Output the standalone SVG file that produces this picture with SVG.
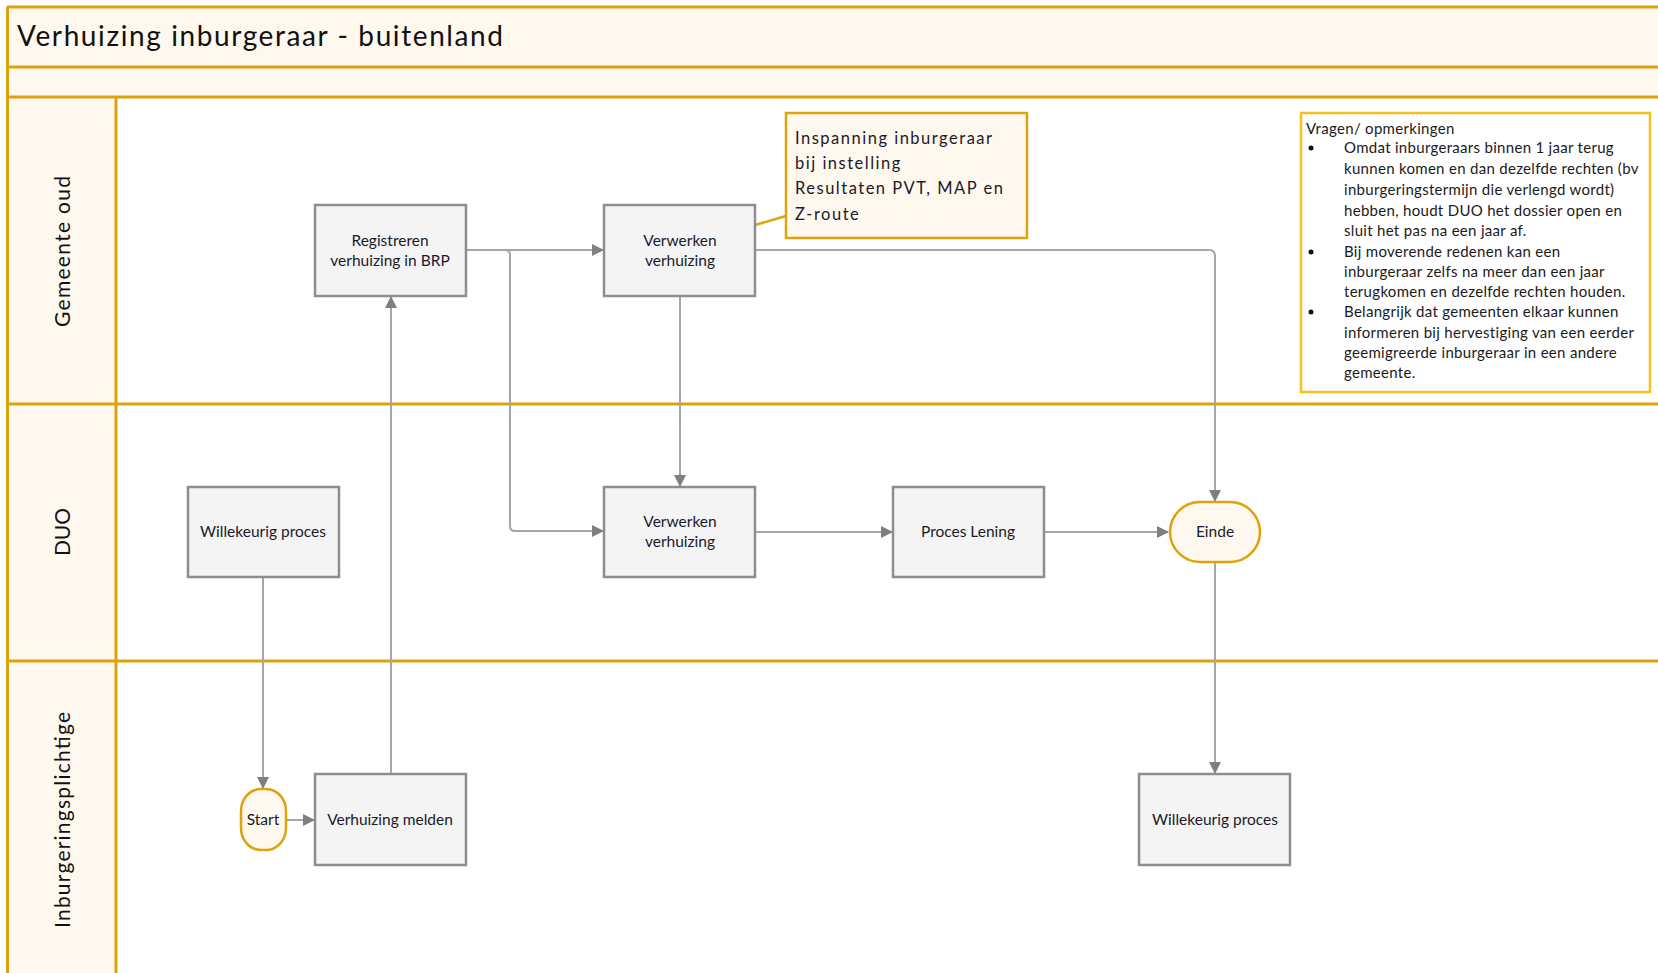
<svg xmlns="http://www.w3.org/2000/svg" width="1658" height="973" viewBox="0 0 1658 973">
<style>
.lane{stroke:#DDA20C;stroke-width:3;fill:none}
.hdr{fill:#FEF8EF}
.proc{fill:#F4F4F4;stroke:#8E8E8E;stroke-width:2.5}
.term{fill:#FEF8EF;stroke:#DDA20C;stroke-width:2.5}
.t{font-family:Lato,"Open Sans",sans-serif;font-size:15.5px;fill:#1a1a2a;text-anchor:middle}
.lt{font-family:Lato,"Open Sans",sans-serif;font-size:21px;fill:#111;text-anchor:middle}
.note{font-family:Lato,"Open Sans",sans-serif;font-size:16.5px;fill:#1a1a2a;letter-spacing:1.5px}
.q{font-family:Lato,"Open Sans",sans-serif;font-size:15px;fill:#1a1a1a;letter-spacing:0.3px}
.c{stroke:#A6A6A6;stroke-width:2;fill:none}
</style>
<defs>
<marker id="ah" markerUnits="userSpaceOnUse" markerWidth="12" markerHeight="12" refX="11" refY="6" orient="auto">
<path d="M0,0 L12,6 L0,12 z" fill="#7F7F7F"/>
</marker>
</defs>
<rect width="1658" height="973" fill="#ffffff"/>
<g id="frame">
<rect class="hdr" x="7" y="7" width="1651" height="90"/>
<rect class="hdr" x="7" y="97" width="109" height="876"/>
<line class="lane" x1="7" y1="7" x2="1658" y2="7"/>
<line class="lane" x1="7" y1="67" x2="1658" y2="67"/>
<line class="lane" x1="7" y1="97" x2="1658" y2="97"/>
<line class="lane" x1="7" y1="404" x2="1658" y2="404"/>
<line class="lane" x1="7" y1="661" x2="1658" y2="661"/>
<line class="lane" x1="7.5" y1="7" x2="7.5" y2="973"/>
<line class="lane" x1="116" y1="97" x2="116" y2="973"/>
<text x="17" y="46" font-family="Lato,'Open Sans',sans-serif" font-size="28" fill="#111" textLength="486">Verhuizing inburgeraar - buitenland</text>
</g>
<g id="lane-gemeente"><text class="lt" transform="translate(70,251) rotate(-90)" textLength="152" letter-spacing="1">Gemeente oud</text></g>
<g id="lane-duo"><text class="lt" transform="translate(70,532) rotate(-90)">DUO</text></g>
<g id="lane-inburgeringsplichtige"><text class="lt" transform="translate(70,820) rotate(-90)" textLength="216">Inburgeringsplichtige</text></g>
<g id="connectors">
<path class="c" d="M466,250 L603,250" marker-end="url(#ah)"/>
<path class="c" d="M466,250 L505,250 Q510,250 510,255 L510,526 Q510,531 515,531 L603,531" marker-end="url(#ah)"/>
<path class="c" d="M680,296 L680,486" marker-end="url(#ah)"/>
<path class="c" d="M755,250 L1209,250 Q1215,250 1215,256 L1215,501" marker-end="url(#ah)"/>
<path class="c" d="M755,532 L892,532" marker-end="url(#ah)"/>
<path class="c" d="M1044,532 L1168,532" marker-end="url(#ah)"/>
<path class="c" d="M1215,562 L1215,773" marker-end="url(#ah)"/>
<path class="c" d="M263,577 L263,788" marker-end="url(#ah)"/>
<path class="c" d="M286,820 L314,820" marker-end="url(#ah)"/>
<path class="c" d="M391,774 L391,297" marker-end="url(#ah)"/>
<line x1="755" y1="225" x2="786" y2="216" stroke="#DDA20C" stroke-width="2.5"/>
</g>
<g id="registreren">
<rect class="proc" x="315" y="205" width="151" height="91"/>
<text class="t" x="390" y="246">Registreren</text>
<text class="t" x="390" y="266">verhuizing in BRP</text>
</g>
<g id="verwerken-gemeente">
<rect class="proc" x="604" y="205" width="151" height="91"/>
<text class="t" x="680" y="246">Verwerken</text>
<text class="t" x="680" y="266">verhuizing</text>
</g>
<g id="note-inspanning">
<rect x="786" y="113" width="241" height="125" fill="#FEF8EF" stroke="#DDA20C" stroke-width="2.5"/>
<text class="note" x="795" y="144">Inspanning inburgeraar</text>
<text class="note" x="795" y="169">bij instelling</text>
<text class="note" x="795" y="194">Resultaten PVT, MAP en</text>
<text class="note" x="795" y="220">Z-route</text>
</g>
<g id="vragen">
<rect x="1301" y="113" width="349" height="279" fill="#ffffff" stroke="#F5C01E" stroke-width="2.5"/>
<text class="q" x="1306" y="134">Vragen/ opmerkingen</text>
<circle cx="1311" cy="148" r="2.5" fill="#111"/>
<circle cx="1311" cy="252" r="2.5" fill="#111"/>
<circle cx="1311" cy="312" r="2.5" fill="#111"/>
<text class="q" x="1344" y="153">Omdat inburgeraars binnen 1 jaar terug</text>
<text class="q" x="1344" y="174">kunnen komen en dan dezelfde rechten (bv</text>
<text class="q" x="1344" y="195">inburgeringstermijn die verlengd wordt)</text>
<text class="q" x="1344" y="216">hebben, houdt DUO het dossier open en</text>
<text class="q" x="1344" y="236">sluit het pas na een jaar af.</text>
<text class="q" x="1344" y="257">Bij moverende redenen kan een</text>
<text class="q" x="1344" y="277">inburgeraar zelfs na meer dan een jaar</text>
<text class="q" x="1344" y="297">terugkomen en dezelfde rechten houden.</text>
<text class="q" x="1344" y="317">Belangrijk dat gemeenten elkaar kunnen</text>
<text class="q" x="1344" y="338">informeren bij hervestiging van een eerder</text>
<text class="q" x="1344" y="358">geemigreerde inburgeraar in een andere</text>
<text class="q" x="1344" y="378">gemeente.</text>
</g>
<g id="willekeurig-duo">
<rect class="proc" x="188" y="487" width="151" height="90"/>
<text class="t" x="263" y="537">Willekeurig proces</text>
</g>
<g id="verwerken-duo">
<rect class="proc" x="604" y="487" width="151" height="90"/>
<text class="t" x="680" y="527">Verwerken</text>
<text class="t" x="680" y="547">verhuizing</text>
</g>
<g id="proces-lening">
<rect class="proc" x="893" y="487" width="151" height="90"/>
<text class="t" x="968" y="537">Proces Lening</text>
</g>
<g id="einde">
<rect class="term" x="1170" y="502" width="90" height="60" rx="30" ry="30"/>
<text class="t" x="1215" y="537">Einde</text>
</g>
<g id="start">
<rect class="term" x="241" y="789" width="45" height="61" rx="20" ry="22"/>
<text class="t" x="263" y="825">Start</text>
</g>
<g id="verhuizing-melden">
<rect class="proc" x="315" y="774" width="151" height="91"/>
<text class="t" x="390" y="825">Verhuizing melden</text>
</g>
<g id="willekeurig-inburgering">
<rect class="proc" x="1139" y="774" width="151" height="91"/>
<text class="t" x="1215" y="825">Willekeurig proces</text>
</g>
</svg>
